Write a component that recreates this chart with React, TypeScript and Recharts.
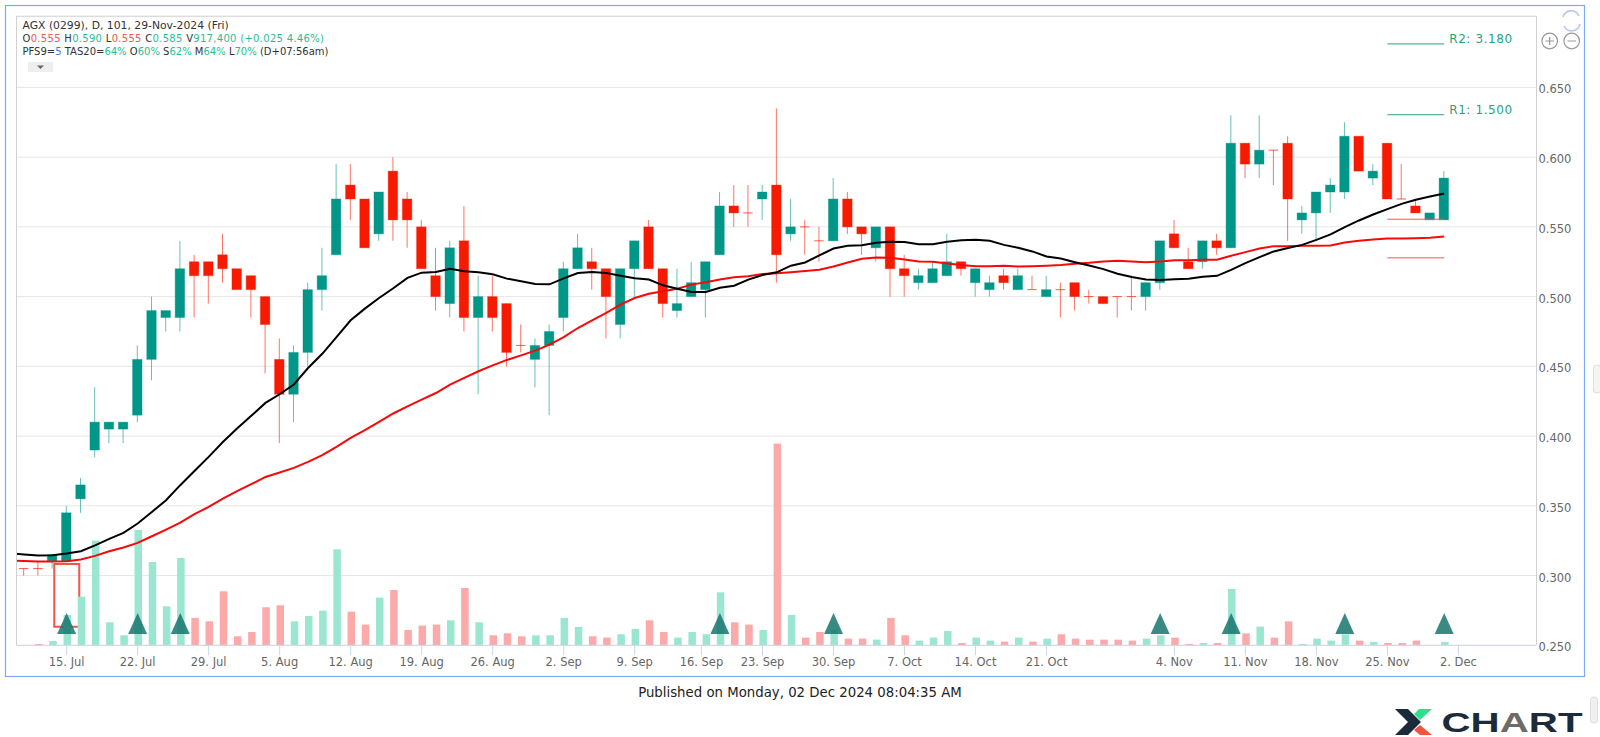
import {
  Bar,
  CartesianGrid,
  ComposedChart,
  Line,
  ReferenceArea,
  ReferenceLine,
  Scatter,
  XAxis,
  YAxis,
} from "recharts"

// OHLC por sesion, 10 Jul 2024 -> 29 Nov 2024 (101 velas)
const opens = [
  0.305, 0.305, 0.31, 0.31, 0.355, 0.39, 0.405, 0.405, 0.415, 0.455, 0.485, 0.485, 0.525, 0.525, 0.53, 0.52, 0.515,
  0.5, 0.455, 0.43, 0.46, 0.505, 0.53, 0.58, 0.57, 0.545, 0.59, 0.57, 0.55, 0.515, 0.495, 0.54, 0.485, 0.5, 0.495,
  0.465, 0.455, 0.465, 0.485, 0.52, 0.525, 0.52, 0.48, 0.52, 0.55, 0.52, 0.49, 0.5, 0.505, 0.53, 0.565, 0.56, 0.57,
  0.58, 0.545, 0.55, 0.54, 0.54, 0.57, 0.55, 0.535, 0.55, 0.52, 0.51, 0.51, 0.515, 0.525, 0.51, 0.505, 0.515, 0.505,
  0.505, 0.5, 0.505, 0.51, 0.5, 0.5, 0.5, 0.5, 0.5, 0.51, 0.545, 0.525, 0.525, 0.54, 0.535, 0.61, 0.595, 0.605, 0.61,
  0.555, 0.56, 0.575, 0.575, 0.615, 0.585, 0.61, 0.57, 0.565, 0.555, 0.555,
]
const highs = [
  0.305, 0.31, 0.315, 0.35, 0.37, 0.435, 0.41, 0.41, 0.465, 0.5, 0.49, 0.54, 0.53, 0.525, 0.545, 0.52, 0.515, 0.5,
  0.47, 0.465, 0.51, 0.535, 0.595, 0.595, 0.57, 0.575, 0.6, 0.575, 0.555, 0.535, 0.54, 0.565, 0.515, 0.515, 0.495,
  0.48, 0.47, 0.48, 0.525, 0.545, 0.535, 0.52, 0.52, 0.54, 0.555, 0.52, 0.52, 0.525, 0.525, 0.575, 0.58, 0.58, 0.58,
  0.635, 0.57, 0.555, 0.55, 0.585, 0.575, 0.55, 0.55, 0.55, 0.53, 0.52, 0.525, 0.545, 0.525, 0.52, 0.515, 0.52, 0.52,
  0.515, 0.515, 0.51, 0.51, 0.505, 0.5, 0.5, 0.515, 0.51, 0.54, 0.555, 0.535, 0.54, 0.545, 0.63, 0.61, 0.63, 0.605,
  0.615, 0.565, 0.575, 0.585, 0.625, 0.615, 0.595, 0.61, 0.595, 0.57, 0.56, 0.59,
]
const lows = [
  0.3, 0.3, 0.305, 0.31, 0.345, 0.385, 0.395, 0.395, 0.41, 0.44, 0.475, 0.475, 0.485, 0.495, 0.51, 0.505, 0.485, 0.445,
  0.395, 0.41, 0.45, 0.49, 0.53, 0.555, 0.535, 0.54, 0.54, 0.535, 0.52, 0.49, 0.485, 0.475, 0.43, 0.475, 0.45, 0.46,
  0.435, 0.415, 0.475, 0.52, 0.505, 0.47, 0.47, 0.5, 0.52, 0.485, 0.485, 0.5, 0.485, 0.53, 0.55, 0.55, 0.555, 0.51,
  0.54, 0.53, 0.525, 0.54, 0.545, 0.53, 0.525, 0.5, 0.5, 0.505, 0.51, 0.515, 0.515, 0.5, 0.5, 0.505, 0.505, 0.505, 0.5,
  0.485, 0.49, 0.495, 0.495, 0.485, 0.49, 0.49, 0.505, 0.535, 0.52, 0.52, 0.53, 0.535, 0.585, 0.585, 0.58, 0.54, 0.545,
  0.54, 0.56, 0.57, 0.59, 0.58, 0.57, 0.57, 0.56, 0.555, 0.555,
]
const closes = [
  0.305, 0.305, 0.315, 0.345, 0.365, 0.41, 0.41, 0.41, 0.455, 0.49, 0.49, 0.52, 0.515, 0.515, 0.52, 0.505, 0.505, 0.48,
  0.43, 0.46, 0.505, 0.515, 0.57, 0.57, 0.535, 0.575, 0.555, 0.555, 0.52, 0.5, 0.535, 0.485, 0.5, 0.485, 0.46, 0.465,
  0.465, 0.475, 0.52, 0.535, 0.52, 0.5, 0.52, 0.54, 0.52, 0.495, 0.495, 0.51, 0.525, 0.565, 0.56, 0.56, 0.575, 0.53,
  0.55, 0.55, 0.54, 0.57, 0.55, 0.545, 0.55, 0.52, 0.515, 0.515, 0.52, 0.525, 0.52, 0.52, 0.51, 0.51, 0.515, 0.505,
  0.505, 0.505, 0.5, 0.5, 0.495, 0.5, 0.5, 0.51, 0.54, 0.535, 0.52, 0.54, 0.535, 0.61, 0.595, 0.605, 0.605, 0.57, 0.56,
  0.575, 0.58, 0.615, 0.59, 0.59, 0.57, 0.57, 0.56, 0.56, 0.585,
]
const volumes = [
  0, 260, 860, 6060, 9740, 20940, 4600, 2000, 23060, 16660, 7800, 17460, 5460, 4800, 10800, 1800, 2660, 7600, 8000,
  4800, 5860, 6940, 19200, 6740, 4140, 9540, 11060, 3060, 3940, 4140, 5000, 11460, 4600, 2000, 2400, 1800, 2000, 2000,
  5460, 3660, 1800, 1540, 2200, 3260, 5000, 2660, 1540, 2660, 2200, 10600, 4600, 4140, 3060, 40340, 6060, 1540, 2660,
  3200, 1340, 1340, 1140, 5460, 2000, 940, 1540, 2870, 460, 1540, 940, 730, 1540, 730, 1330, 2200, 1330, 1130, 1130,
  1130, 940, 1330, 2000, 1540, 270, 460, 460, 11260, 2390, 3730, 1540, 4780, 270, 1330, 940, 2200, 940, 670, 460,
  460, 940, 0, 660,
]
// medias, el primer valor es la sesion anterior (queda recortada en el borde)
const blackMa = [
  0.316, 0.3151, 0.3143, 0.3146, 0.3158, 0.3174, 0.3217, 0.3263, 0.3306, 0.3373, 0.3456, 0.354, 0.3648, 0.375, 0.3851,
  0.3958, 0.4054, 0.4145, 0.4238, 0.43, 0.437, 0.4488, 0.459, 0.471, 0.483, 0.4914, 0.499, 0.506, 0.5134, 0.5172,
  0.5177, 0.5199, 0.5182, 0.5174, 0.516, 0.5129, 0.511, 0.5091, 0.5088, 0.5131, 0.5169, 0.5177, 0.5169, 0.515, 0.5131,
  0.5122, 0.5081, 0.5057, 0.5033, 0.5033, 0.5064, 0.5078, 0.5122, 0.5155, 0.5174, 0.5222, 0.5245, 0.5295, 0.5345,
  0.5364, 0.5369, 0.5386, 0.5393, 0.5391, 0.5376, 0.5376, 0.5393, 0.5405, 0.5407, 0.54, 0.5371, 0.535, 0.5324, 0.5288,
  0.5273, 0.5247, 0.5223, 0.5197, 0.5164, 0.514, 0.5123, 0.512, 0.5125, 0.5128, 0.5142, 0.5149, 0.5192, 0.524, 0.5283,
  0.5324, 0.5348, 0.5371, 0.5407, 0.5446, 0.5498, 0.5546, 0.5589, 0.5627, 0.5665, 0.5694, 0.5718, 0.5739,
]
const redMa = [
  0.3108, 0.3105, 0.31, 0.31, 0.3103, 0.3115, 0.3141, 0.3174, 0.3201, 0.3234, 0.3282, 0.333, 0.338, 0.344, 0.3492,
  0.3552, 0.3605, 0.3655, 0.3707, 0.3739, 0.3772, 0.3815, 0.3863, 0.3923, 0.3987, 0.4042, 0.4102, 0.4162, 0.4213,
  0.4261, 0.4309, 0.4369, 0.4417, 0.4465, 0.4507, 0.4546, 0.4579, 0.4613, 0.4656, 0.471, 0.4775, 0.483, 0.4883, 0.4942,
  0.499, 0.5021, 0.5038, 0.5057, 0.5086, 0.5103, 0.5122, 0.5139, 0.5146, 0.5163, 0.5167, 0.5174, 0.5183, 0.5192,
  0.5216, 0.5245, 0.5271, 0.5281, 0.5278, 0.5266, 0.5252, 0.525, 0.5238, 0.5226, 0.5218, 0.5218, 0.5221, 0.5216,
  0.5218, 0.5221, 0.5226, 0.5235, 0.5242, 0.5252, 0.5257, 0.5252, 0.5247, 0.5252, 0.5261, 0.5261, 0.5264, 0.5264,
  0.5293, 0.5319, 0.5345, 0.5362, 0.5362, 0.5364, 0.5364, 0.5367, 0.5388, 0.54, 0.541, 0.5417, 0.5417, 0.5419, 0.5422,
  0.5431,
]

const tickIndex = [3, 8, 13, 18, 23, 28, 33, 38, 43, 47.7, 52, 57, 62, 67, 72, 81, 86, 91, 96, 101]
const tickLabels = [
  "15. Jul", "22. Jul", "29. Jul", "5. Aug", "12. Aug", "19. Aug", "26. Aug", "2. Sep", "9. Sep", "16. Sep",
  "23. Sep", "30. Sep", "7. Oct", "14. Oct", "21. Oct", "4. Nov", "11. Nov", "18. Nov", "25. Nov", "2. Dec",
]
const priceTicks = [0.25, 0.3, 0.35, 0.4, 0.45, 0.5, 0.55, 0.6, 0.65]

const signalIndex = [3, 8, 11, 49, 57, 80, 85, 93, 100]
const signalLevel = 0.2653

const resistance = [
  { name: "R2: 3.180", price: 0.6812 },
  { name: "R1: 1.500", price: 0.6304 },
]
const support = [0.5555, 0.5278]

const GREEN = "#009688"
const RED = "#f61a00"
const FONT = "'DejaVu Sans', sans-serif"

const rows = opens.map((o, i) => ({
  i,
  open: o,
  high: highs[i],
  low: lows[i],
  close: closes[i],
  volume: volumes[i],
}))
const blackRows = blackMa.map((v, k) => ({ i: k - 1, v }))
const redRows = redMa.map((v, k) => ({ i: k - 1, v }))
const signalRows = signalIndex.map((i) => ({ i, level: signalLevel }))

function isUp(p: any) {
  return p.close > p.open
}

function Candle(props: any) {
  const { x, y, width, height, payload } = props
  const up = isUp(payload)
  const color = up ? GREEN : RED
  const toY = (price: number) => y + ((payload.high - price) / (payload.high - payload.low)) * height
  const top = toY(Math.max(payload.open, payload.close))
  const bottom = toY(Math.min(payload.open, payload.close))
  const cx = x + width / 2
  return (
    <g>
      <line x1={cx} x2={cx} y1={y} y2={y + height} stroke={color} strokeOpacity={0.6} strokeWidth={1} />
      {bottom - top < 1 ? (
        <line x1={x} x2={x + width} y1={top} y2={top} stroke={color} strokeOpacity={0.7} strokeWidth={1} />
      ) : (
        <rect x={x} y={top} width={width} height={bottom - top} fill={color} stroke={color} strokeOpacity={0.35} />
      )}
    </g>
  )
}

function VolumeBar(props: any) {
  const { x, y, width, height, payload } = props
  if (!height) return null
  return <rect x={x} y={y} width={width} height={height} fill={isUp(payload) ? "#9be6d0" : "#fba9a9"} />
}

function Signal(props: any) {
  const { cx, cy } = props
  return (
    <path
      d={`M${cx} ${cy - 11} L${cx + 9.5} ${cy + 10} L${cx - 9.5} ${cy + 10} Z`}
      fill="#17756f"
      fillOpacity={0.85}
    />
  )
}

function levelLabel(text: string) {
  return (p: any) => (
    <text x={p.viewBox.x + p.viewBox.width + 5} y={p.viewBox.y - 1} fill="#2aa17a" fontSize={12} letterSpacing={0.6} fontFamily={FONT}>
      {text}
    </text>
  )
}

function Header() {
  const g = { color: "#1fc094" }
  const r = { color: "#f8544e" }
  return (
    <div style={{ position: "absolute", left: 22.5, top: 19, fontFamily: FONT, fontSize: 10, lineHeight: "13px", color: "#333", whiteSpace: "nowrap" }}>
      <div style={{ fontSize: 10.8 }}>AGX (0299), D, 101, 29-Nov-2024 (Fri)</div>
      <div style={{ letterSpacing: 0.3 }}>
        O<span style={r}>0.555</span> H<span style={g}>0.590</span> L<span style={r}>0.555</span> C
        <span style={g}>0.585</span> V<span style={g}>917,400 (+0.025 4.46%)</span>
      </div>
      <div>
        PFS9=<span style={{ color: "#3b7de0" }}>5</span> TAS20=<span style={g}>64%</span> O<span style={g}>60%</span> S
        <span style={g}>62%</span> M<span style={g}>64%</span> L<span style={g}>70%</span> (D+07:56am)
      </div>
    </div>
  )
}

function Decorations() {
  return (
    <svg width={1600} height={737} style={{ position: "absolute", left: 0, top: 0, pointerEvents: "none" }}>
      <rect x={5.5} y={5.5} width={1579} height={671} fill="none" stroke="#7ea8f0" strokeWidth={1.2} />
      <line x1={16.5} x2={1536.5} y1={16.5} y2={16.5} stroke="#dcdcdc" />
      <line x1={16.5} x2={16.5} y1={16} y2={645} stroke="#d0d0d0" />
      <line x1={1536.5} x2={1536.5} y1={16} y2={645} stroke="#d0d0d0" />
      <rect x={28} y={62} width={25} height={10} fill="#eeeeee" />
      <path d="M37 65.5 L44 65.5 L40.5 69 Z" fill="#666" />
      <g fill="none" stroke="#b4c8f2" strokeWidth={1.6}>
        <path d="M1563 17 A8.5 8.5 0 0 1 1579 16" />
        <path d="M1580 24 A8.5 8.5 0 0 1 1564 26" />
      </g>
      <g fill="none" stroke="#999" strokeWidth={1.2}>
        <circle cx={1549.7} cy={41} r={7.8} />
        <circle cx={1571.7} cy={41} r={7.8} />
        <path d="M1545.5 41 H1554 M1549.7 37 V45 M1567.5 41 H1576" />
      </g>
      <rect x={1593.5} y={365} width={7} height={28} rx={3} fill="#f4f4f4" stroke="#dedede" />
      <rect x={1590.5} y={697} width={7} height={26} rx={3} fill="#f0f0f0" stroke="#dedede" />
      <path d="M1395 709 H1408 L1421 722 L1408 735 H1395 L1408 722 Z" fill="#1c2b3a" />
      <path d="M1432 709 H1419 L1414 714 L1420 720 Z" fill="#2fe08a" />
      <path d="M1420 725 L1432 735 H1420 L1414 730 Z" fill="#f2553d" />
      <text x={1441.5} y={732} fontFamily="'Liberation Sans', sans-serif" fontWeight={700} fontSize={28} textLength={141} lengthAdjust="spacingAndGlyphs" fill="#1c2b3a">
        CH<tspan fill="#6b6b6b">A</tspan>RT
      </text>
    </svg>
  )
}

export default function App() {
  return (
    <div style={{ position: "absolute", left: 0, top: 0, width: 1600, height: 737, background: "#fff", overflow: "hidden" }}>
      <ComposedChart
        width={1600}
        height={737}
        data={rows}
        margin={{ top: 16, right: 13.5, bottom: 61.7, left: 16.5 }}
      >
        <CartesianGrid horizontal vertical={false} stroke="#e6e6e6" yAxisId="price" />
        <XAxis
          xAxisId="price"
          dataKey="i"
          type="number"
          domain={[-0.53, 106.5]}
          allowDataOverflow
          ticks={tickIndex}
          interval={0}
          tickFormatter={(v: number) => tickLabels[tickIndex.indexOf(v)]}
          tick={{ fontSize: 11.5, fill: "#666", fontFamily: FONT }}
          tickSize={10}
          tickMargin={3}
          axisLine={{ stroke: "#ccd6eb" }}
          tickLine={{ stroke: "#ccd6eb" }}
          height={30}
        />
        <XAxis xAxisId="vol" dataKey="i" type="number" domain={[-0.6, 106.43]} allowDataOverflow hide />
        <YAxis
          yAxisId="price"
          orientation="right"
          type="number"
          domain={[0.25, 0.7012]}
          allowDataOverflow
          ticks={priceTicks}
          interval={0}
          tickFormatter={(v: number) => v.toFixed(3)}
          tick={{ fontSize: 11.5, fill: "#666", fontFamily: FONT, dy: 2 }}
          tickLine={false}
          axisLine={false}
          tickMargin={2}
          tickSize={0}
          width={50}
        />
        <YAxis yAxisId="vol" type="number" domain={[0, 125860]} allowDataOverflow hide />

        <Bar xAxisId="vol" yAxisId="vol" dataKey="volume" barSize={7.5} shape={<VolumeBar />} isAnimationActive={false} />
        <Bar
          xAxisId="price"
          yAxisId="price"
          dataKey={(d: any) => [d.low, d.high]}
          barSize={9.5}
          shape={<Candle />}
          isAnimationActive={false}
        />
        <Line xAxisId="price" yAxisId="price" data={redRows} dataKey="v" stroke="#f80808" strokeWidth={2} dot={false} isAnimationActive={false} />
        <Line xAxisId="price" yAxisId="price" data={blackRows} dataKey="v" stroke="#000" strokeWidth={2} dot={false} isAnimationActive={false} />
        <Scatter xAxisId="price" yAxisId="price" data={signalRows} dataKey="level" shape={<Signal />} isAnimationActive={false} />

        <ReferenceArea
          xAxisId="price"
          yAxisId="price"
          x1={2.13}
          x2={3.89}
          y1={0.2633}
          y2={0.3083}
          fill="none"
          stroke="#f0544c"
          strokeWidth={2}
        />
        {resistance.map((r) => (
          <ReferenceLine
            key={r.name}
            xAxisId="price"
            yAxisId="price"
            segment={[{ x: 96, y: r.price }, { x: 100, y: r.price }]}
            stroke="#2aa17a"
            label={levelLabel(r.name)}
          />
        ))}
        {support.map((s) => (
          <ReferenceLine
            key={s}
            xAxisId="price"
            yAxisId="price"
            segment={[{ x: 96, y: s }, { x: 100, y: s }]}
            stroke="#f8544e"
          />
        ))}
      </ComposedChart>
      <Decorations />
      <Header />
      <div style={{ position: "absolute", left: 0, width: 1600, top: 685, textAlign: "center", fontFamily: FONT, fontSize: 13.3, color: "#222" }}>
        Published on Monday, 02 Dec 2024 08:04:35 AM
      </div>
    </div>
  )
}
